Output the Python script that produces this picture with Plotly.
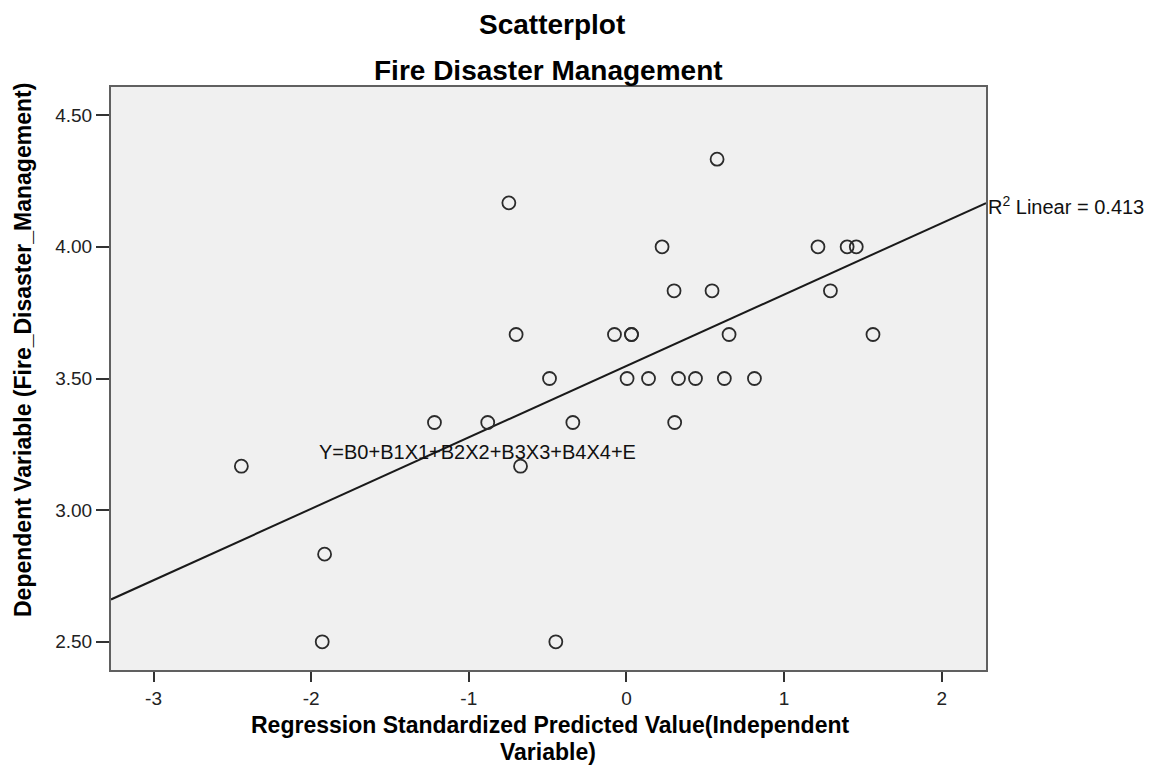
import numpy as np
import plotly.graph_objects as go

# Regression standardized predicted values (x) and dependent variable (y)
x_pred = [-0.746, -0.700, -0.488, 0.575, 0.226, 1.215, 1.400, 1.458,
          0.302, 0.543, 1.294, -0.076, 0.032, 0.032, 0.651, 1.564,
          0.004, 0.140, 0.330, 0.438, 0.621, 0.812, 0.306, -1.218,
          -0.880, -0.340, -2.443, -0.672, -1.915, -1.930, -0.448]
y_dep = [4.167, 3.667, 3.500, 4.333, 4.000, 4.000, 4.000, 4.000,
         3.833, 3.833, 3.833, 3.667, 3.667, 3.667, 3.667, 3.667,
         3.500, 3.500, 3.500, 3.500, 3.500, 3.500, 3.333, 3.333,
         3.333, 3.333, 3.167, 3.167, 2.833, 2.500, 2.500]

x_ticks = [-3, -2, -1, 0, 1, 2]
y_ticks = [2.5, 3.0, 3.5, 4.0, 4.5]
y_tick_labels = ["2.50", "3.00", "3.50", "4.00", "4.50"]
x_range = [-3.27, 2.281]
y_range = [2.393, 4.607]

r2_text = "R<sup>2</sup> Linear = 0.413"
eq_text = "Y=B0+B1X1+B2X2+B3X3+B4X4+E"

slope, intercept = np.polyfit(np.array(x_pred), np.array(y_dep), 1)
line_x = np.array(x_range)
line_y = intercept + slope * line_x

FONT = "Liberation Sans, Arial, sans-serif"

fig = go.Figure()
fig.add_trace(go.Scatter(
    x=line_x, y=line_y, mode="lines",
    line=dict(color="#1a1a1a", width=2), hoverinfo="skip", showlegend=False))
fig.add_trace(go.Scatter(
    x=x_pred, y=y_dep, mode="markers",
    marker=dict(symbol="circle-open", size=13, color="#2b2b2b",
                line=dict(width=1.8, color="#2b2b2b")),
    showlegend=False))

axis_common = dict(
    showgrid=False, zeroline=False, showline=True, mirror=True,
    linecolor="#606060", linewidth=2, ticks="outside", tickwidth=2,
    tickcolor="#333333",
    tickfont=dict(family=FONT, size=19, color="#222222"))

fig.update_xaxes(range=x_range, tickvals=x_ticks,
                 ticktext=[str(v) for v in x_ticks], ticklen=10, **axis_common)
fig.update_yaxes(range=y_range, tickvals=y_ticks, ticktext=y_tick_labels,
                 ticklen=13, **axis_common)

W, H = 1157, 766
L, R, T, B = 111, 171, 87, 96
pw, ph = W - L - R, H - T - B

def px(xp):
    return (xp - L) / pw

def py(yp):
    return (H - B - yp) / ph

annots = [
    dict(text="<b>Scatterplot</b>", x=px(552), y=py(25), size=28),
    dict(text="<b>Fire Disaster Management</b>", x=px(548), y=py(70), size=28),
    dict(text="<b>Regression Standardized Predicted Value(Independent</b>",
         x=px(550), y=py(725), size=23),
    dict(text="<b>Variable)</b>", x=px(548), y=py(752), size=23),
]
for a in annots:
    fig.add_annotation(text=a["text"], x=a["x"], y=a["y"], xref="paper", yref="paper",
                       xanchor="center", yanchor="middle", showarrow=False,
                       font=dict(family=FONT, size=a["size"], color="#000000"))

fig.add_annotation(text="<b>Dependent Variable (Fire_Disaster_Management)</b>",
                   x=px(23), y=py(350), xref="paper", yref="paper",
                   xanchor="center", yanchor="middle", textangle=-90,
                   showarrow=False, font=dict(family=FONT, size=23, color="#000000"))

fig.add_annotation(text=r2_text, x=px(986), y=py(205), xref="paper", yref="paper",
                   xanchor="left", yanchor="middle", showarrow=False,
                   font=dict(family=FONT, size=20, color="#111111"))

fig.add_annotation(text=eq_text, x=px(317), y=py(452), xref="paper", yref="paper",
                   xanchor="left", yanchor="middle", showarrow=False,
                   font=dict(family=FONT, size=20, color="#111111"))

fig.update_layout(
    width=W, height=H,
    margin=dict(l=L, r=R, t=T, b=B, autoexpand=False),
    plot_bgcolor="#f0f0f0", paper_bgcolor="#ffffff",
    showlegend=False,
)

fig.write_html("out.html")
